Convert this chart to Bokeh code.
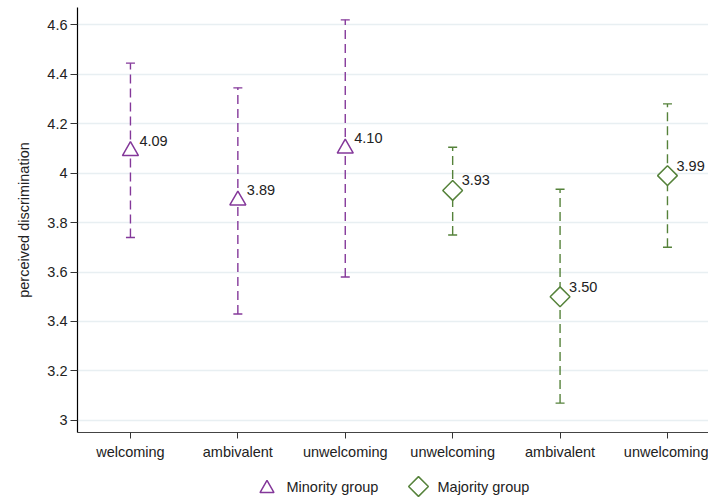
from bokeh.plotting import figure
from bokeh.layouts import column
from bokeh.models import (ColumnDataSource, Whisker, TeeHead, FixedTicker,
                          NumeralTickFormatter, Range1d)
from bokeh.core.properties import value
from bokeh.embed import file_html
from bokeh.resources import INLINE

# Group conditions along the x axis (minority first, then majority)
conditions = ["welcoming", "ambivalent", "unwelcoming",
              "unwelcoming", "ambivalent", "unwelcoming"]

# Minority group: point estimates and confidence bounds
minority_mean = [4.09, 3.89, 4.10]
minority_lower = [3.74, 3.43, 3.58]
minority_upper = [4.445, 4.345, 4.62]

# Majority group: point estimates and confidence bounds
majority_mean = [3.93, 3.50, 3.99]
majority_lower = [3.75, 3.07, 3.70]
majority_upper = [4.105, 3.935, 4.28]

y_ticks = [3, 3.2, 3.4, 3.6, 3.8, 4, 4.2, 4.4, 4.6]

group_names = ["Minority group", "Majority group"]

PURPLE = "#84389a"
GREEN = "#55823a"
FONT = "Liberation Sans"
FS = "14.5px"

TRI = dict(marker="triangle", line_color=PURPLE, fill_color="white",
           line_width=1.5)
DIA = dict(marker="square", angle=0.785398, line_color=GREEN,
           fill_color="white", line_width=1.5)

positions = list(range(1, len(conditions) + 1))
n_min = len(minority_mean)

minority = ColumnDataSource(dict(
    x=positions[:n_min], y=minority_mean,
    lower=minority_lower, upper=minority_upper,
    label=[f"{v:.2f}" for v in minority_mean]))
majority = ColumnDataSource(dict(
    x=positions[n_min:], y=majority_mean,
    lower=majority_lower, upper=majority_upper,
    label=[f"{v:.2f}" for v in majority_mean]))

p = figure(width=708, height=470, output_backend="svg", toolbar_location=None,
           x_range=Range1d(0.507, 6.382), y_range=Range1d(2.951, 4.670),
           min_border_left=77, min_border_right=0, min_border_top=7,
           min_border_bottom=38)
p.outline_line_color = None

# grid
p.xgrid.grid_line_color = None
p.ygrid.grid_line_color = "#e8eff2"
p.ygrid.grid_line_width = 1.6

# y axis
p.yaxis.ticker = FixedTicker(ticks=y_ticks)
p.yaxis.formatter = NumeralTickFormatter(format="0.[0]")
p.yaxis.axis_label = "perceived discrimination"
p.yaxis.axis_label_text_font = FONT
p.yaxis.axis_label_text_font_size = FS
p.yaxis.axis_label_text_font_style = "normal"
p.yaxis.axis_label_text_color = "#222222"
p.yaxis.axis_label_standoff = 12
p.yaxis.axis_line_color = "black"
p.yaxis.axis_line_width = 1.2
p.yaxis.major_tick_line_color = "#333333"
p.yaxis.major_tick_out = 7
p.yaxis.major_tick_in = 0
p.yaxis.minor_tick_line_color = None
p.yaxis.major_label_standoff = 3

# x axis
p.xaxis.ticker = FixedTicker(ticks=positions)
p.xaxis.major_label_overrides = {x: c for x, c in zip(positions, conditions)}
p.xaxis.axis_line_color = "#444444"
p.xaxis.axis_line_width = 1.2
p.xaxis.major_tick_line_color = "#333333"
p.xaxis.major_tick_out = 6
p.xaxis.major_tick_in = 0
p.xaxis.minor_tick_line_color = None
p.xaxis.major_label_standoff = 5

for ax in (p.xaxis, p.yaxis):
    ax.major_label_text_font = FONT
    ax.major_label_text_font_size = FS
    ax.major_label_text_color = "#222222"

# confidence intervals
for src, color in ((minority, PURPLE), (majority, GREEN)):
    p.add_layout(Whisker(
        source=src, base="x", lower="lower", upper="upper", dimension="height",
        line_color=color, line_width=1.4, line_dash="9 5",
        upper_head=TeeHead(size=9, line_color=color, line_width=1.4),
        lower_head=TeeHead(size=9, line_color=color, line_width=1.4)))

p.scatter("x", "y", source=minority, size=16, **TRI)
p.scatter("x", "y", source=majority, size=14, **DIA)

for src in (minority, majority):
    p.text("x", "y", text="label", source=src, x_offset=9, y_offset=-10,
           text_baseline="middle", text_align="left",
           text_font=value(FONT), text_font_size=FS, text_color="#222222")

# key strip underneath the chart; its ranges are in canvas pixels
# (x from the left edge, y downward from the top of the strip)
key = figure(width=708, height=27, output_backend="svg", toolbar_location=None,
             x_range=Range1d(77, 708), y_range=Range1d(27, 0),
             x_axis_type=None, y_axis_type=None,
             min_border_left=77, min_border_right=0, min_border_top=0,
             min_border_bottom=0)
key.outline_line_color = None
key.xgrid.grid_line_color = None
key.ygrid.grid_line_color = None

key_marker_x = [266.5, 418.0]
key_marker_y = [18.0, 16.0]
key_text_x = [286.0, 437.0]
key.scatter([key_marker_x[0]], [key_marker_y[0]], size=14, **TRI)
key.scatter([key_marker_x[1]], [key_marker_y[1]], size=14, **DIA)
key.text(key_text_x, [16.0, 16.0], text=group_names,
         text_baseline="middle", text_align="left",
         text_font=value(FONT), text_font_size=FS, text_color="#222222")

layout = column(p, key, spacing=0)
open("out.html", "w").write(file_html(layout, INLINE))
